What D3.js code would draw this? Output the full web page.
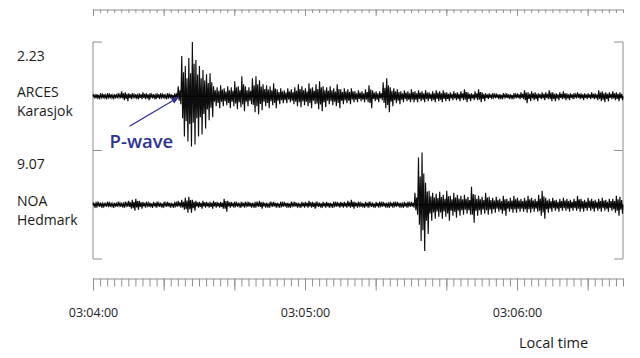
<!DOCTYPE html>
<html>
<head>
<meta charset="utf-8">
<script src="https://cdn.jsdelivr.net/npm/d3@7"></script>
<style>
  body { margin: 0; background: #fff; }
  svg { display: block; font-family: "Open Sans", "Noto Sans", sans-serif; }
  .axis path, .axis line { stroke: #8f8f8f; }
  .axis text { fill: #222; font-size: 12.5px; font-family: "Open Sans", sans-serif; }
</style>
</head>
<body>
<svg id="chart" width="640" height="358"></svg>
<script>
// stations, top to bottom
const stations = ["ARCES", "NOA"];
const places = ["Karasjok", "Hedmark"];
const gains = ["2.23", "9.07"];

// trace envelopes, one value per second from 03:04:00 (up = above baseline, down = below)
const up1 = [2,2,3,2,3,2,2,3,5,4, 3,3,2,3,4,3,3,2,3,3, 2,3,2,3,10,40,30,38,54,36,
  30,26,22,23,10,9,11,8,10,9, 15,10,20,10,9,18,20,16,12,11, 10,13,7,8,6,8,7,9,12,10,
  8,13,9,12,15,10,9,10,8,12, 7,8,7,8,5,6,5,7,11,6, 5,5,14,18,9,8,7,5,6,5,
  7,5,6,5,6,4,5,6,5,6, 4,4,5,4,5,7,4,3,5,7, 4,3,3,3,3,2,3,3,2,3,
  3,4,6,4,5,4,3,4,4,6, 4,3,4,5,3,3,3,4,3,3, 3,4,3,6,5,4,4,5,4,4];
const down1 = [2,3,2,3,2,3,2,2,4,5, 3,2,3,3,3,4,2,3,3,2, 3,2,3,2,8,40,45,50,48,40,
  38,32,24,21,10,12,10,9,12,10, 13,11,15,10,8,16,18,14,10,12, 9,12,8,7,7,6,8,10,11,9,
  10,12,8,13,15,11,8,9,10,12, 8,7,8,6,6,5,6,6,12,5, 6,4,12,16,10,7,8,6,5,6,
  6,6,5,6,5,5,6,5,6,5, 5,4,4,5,4,6,5,4,4,6, 5,3,3,2,3,3,2,3,3,2,
  3,3,7,5,4,5,3,4,3,5, 5,4,3,4,4,3,2,3,4,3, 3,3,4,5,6,5,3,4,5,4];
const up2 = [2,3,2,2,3,2,2,3,2,3, 4,5,6,4,3,3,2,3,3,2, 3,3,2,3,4,5,7,8,5,4,
  3,4,3,3,4,3,3,6,4,3, 3,2,3,3,3,2,3,4,3,2, 3,3,2,3,3,2,3,3,2,3,
  3,4,3,3,2,3,3,2,3,3, 3,3,4,5,3,3,2,3,3,2, 3,3,3,2,3,3,3,2,3,3,
  3,12,47,52,22,14,12,11,13,10, 14,9,12,10,9,10,8,18,10,9, 8,12,8,7,8,6,9,6,7,9,
  7,6,7,9,7,6,10,14,7,6, 7,5,6,7,6,5,6,9,6,5, 7,6,5,6,7,5,6,6,9,8];
const down2 = [3,2,3,2,2,3,2,2,3,2, 4,6,5,4,3,2,3,3,2,3, 2,3,3,2,3,5,8,8,6,3,
  4,3,3,4,3,3,4,7,3,3, 2,3,3,2,3,3,2,4,3,3, 2,3,3,2,3,3,2,3,3,3,
  3,3,4,2,3,3,3,3,2,3, 3,3,3,4,3,2,3,3,2,3, 3,2,3,3,3,2,3,3,3,2,
  3,10,36,46,29,16,14,12,14,12, 16,11,13,11,10,9,10,18,11,10, 9,10,9,8,7,9,11,7,8,8,
  7,7,8,8,7,7,11,14,8,7, 6,7,6,6,7,6,6,7,7,6, 6,7,6,7,6,7,6,8,11,9];
const traces = [{up: up1, down: down1}, {up: up2, down: down2}];

const t0 = new Date(2000, 0, 1, 3, 4, 0);
const t1 = new Date(2000, 0, 1, 3, 6, 30);
const pickSecond = 24.5; // P-wave onset on ARCES

const svg = d3.select("#chart");
const left = 93, right = 623;

const x = d3.scaleTime().domain([t0, t1]).range([left, right]);
const sec = s => new Date(t0.getTime() + s * 1000);

const band = d3.scaleBand().domain(stations).range([42, 259]);
const yFor = st => d3.scaleLinear().domain([-54, 54])
  .range([band(st) + band.bandwidth(), band(st)]);

// rulers
function ruler(yPos, minorLen, majorLen, labels) {
  const g = svg.append("g").attr("class", "axis").attr("transform", `translate(0,${yPos})`);
  g.append("g").call(d3.axisBottom(x).ticks(d3.timeSecond.every(2))
    .tickSize(minorLen).tickSizeOuter(0).tickFormat(""));
  const major = g.append("g").call(d3.axisBottom(x).ticks(d3.timeSecond.every(20))
    .tickSize(majorLen).tickSizeOuter(0).tickPadding(18)
    .tickFormat(d => labels && d.getSeconds() === 0 ? d3.timeFormat("%H:%M:%S")(d) : ""));
  major.select(".domain").remove();
}
ruler(9.5, 3.5, 6.5, false);
ruler(278.5, 8, 12, true);

// side brackets
const yTop = band.range()[0], yBot = band.range()[1];
const brackets = svg.append("g").attr("stroke", "#8f8f8f").attr("fill", "none");
const levels = [yTop, band(stations[1]), yBot];
[[left, 9], [right, -9]].forEach(([bx, dir]) => {
  brackets.append("line").attr("x1", bx).attr("x2", bx).attr("y1", yTop).attr("y2", yBot);
  levels.forEach(ly => brackets.append("line")
    .attr("x1", bx).attr("x2", bx + dir).attr("y1", ly).attr("y2", ly));
});

// traces: within each second, one full swing to the read peaks and one weaker swing
stations.forEach((st, i) => {
  const y = yFor(st);
  const tr = traces[i];
  const pts = [[0, 0]];
  tr.up.forEach((u, k) => {
    const d = tr.down[k];
    pts.push([k + 0.12, u], [k + 0.37, -d * 0.55]);
    pts.push([k + 0.62, u * 0.6], [k + 0.87, -d]);
  });
  pts.push([tr.up.length, 0]);
  const line = d3.line().x(d => x(sec(d[0]))).y(d => y(d[1]));
  svg.append("path").attr("d", line(pts))
    .attr("fill", "none").attr("stroke", "#0d0d0d").attr("stroke-width", 1.15);
  // baseline
  svg.append("line").attr("x1", left).attr("x2", right)
    .attr("y1", y(0)).attr("y2", y(0)).attr("stroke", "#000").attr("stroke-width", 1.2);

  const top = band(st), mid = top + band.bandwidth() / 2;
  svg.append("text").attr("x", 17).attr("y", top + 18.5).text(gains[i])
    .attr("font-size", 14).attr("fill", "#1a1a1a");
  svg.append("text").attr("x", 17).attr("y", mid + 1).text(st)
    .attr("font-size", 14).attr("fill", "#1a1a1a");
  svg.append("text").attr("x", 17).attr("y", mid + 20).text(places[i])
    .attr("font-size", 14).attr("fill", "#1a1a1a");
});

// P-wave annotation
const blue = "#2e3192";
svg.append("defs").append("marker").attr("id", "ah")
  .attr("viewBox", "0 0 10 10").attr("refX", 9).attr("refY", 5)
  .attr("markerWidth", 7).attr("markerHeight", 6).attr("orient", "auto")
  .append("path").attr("d", "M0,1 L10,5 L0,9 Z").attr("fill", blue);
const tipX = x(sec(pickSecond)), tipY = yFor(stations[0])(0);
svg.append("line").attr("x1", tipX - 50).attr("y1", tipY + 30)
  .attr("x2", tipX - 1).attr("y2", tipY + 1)
  .attr("stroke", blue).attr("stroke-width", 1.3).attr("marker-end", "url(#ah)");
svg.append("text").attr("x", tipX - 70).attr("y", tipY + 52).text("P-wave")
  .attr("font-size", 18.5).attr("font-weight", 600).attr("fill", blue);

svg.append("text").attr("x", 519).attr("y", 348).text("Local time")
  .attr("font-size", 14.5).attr("fill", "#1a1a1a");
</script>
</body>
</html>
